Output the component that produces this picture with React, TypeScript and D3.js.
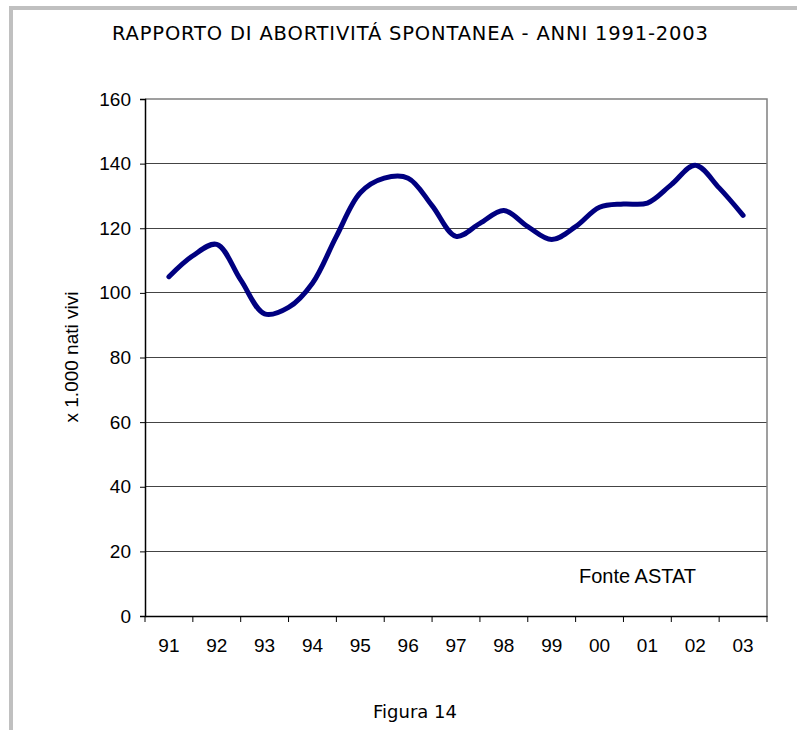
import React, { useEffect, useRef } from 'react';
import { select, scaleBand, scaleLinear, line, curveCatmullRom, axisLeft, axisBottom } from 'd3';

// categories on the x axis
const years = ['91', '92', '93', '94', '95', '96', '97', '98', '99', '00', '01', '02', '03'];
// y axis ticks
const yTicks = [0, 20, 40, 60, 80, 100, 120, 140, 160];
// rate x 1.000 live births, two readings per year (year centre and mid point to the next)
const rates = [
  105, 111.5, 115, 104, 93.5, 95.5, 103, 117.5, 131, 135.5, 135.5, 127, 117.5,
  121.5, 125.5, 120.5, 116.5, 120.5, 126.5, 127.5, 127.8, 133.5, 139.5, 132.5, 124,
];

const titleText = 'RAPPORTO DI ABORTIVITÁ SPONTANEA - ANNI 1991-2003';

export default function App() {
  const svgRef = useRef<SVGSVGElement>(null);

  useEffect(() => {
    const svg = select(svgRef.current);
    svg.selectAll('*').remove();

    const left = 145, right = 767, top = 99, bottom = 616;

    // outer gray frame
    svg.append('rect')
      .attr('x', 11).attr('y', 8)
      .attr('width', 820).attr('height', 760)
      .attr('fill', 'none')
      .attr('stroke', '#c0c0c0')
      .attr('stroke-width', 4);

    svg.append('text')
      .attr('x', 112).attr('y', 40)
      .attr('font-family', 'DejaVu Sans')
      .attr('font-size', 19.5)
      .attr('textLength', 596)
      .attr('lengthAdjust', 'spacing')
      .attr('fill', '#000')
      .text(titleText);

    const x = scaleBand<string>().domain(years).range([left, right]).paddingInner(0).paddingOuter(0);
    const half = x.bandwidth() / 2;
    const xPos = scaleLinear().domain([0, years.length - 1])
      .range([(x(years[0]) as number) + half, (x(years[years.length - 1]) as number) + half]);
    const y = scaleLinear().domain([0, 160]).range([bottom, top]);

    // gridlines
    svg.append('g')
      .selectAll('line')
      .data(yTicks.filter(d => d > 0 && d < 160))
      .join('line')
      .attr('x1', left).attr('x2', right)
      .attr('y1', d => y(d)).attr('y2', d => y(d))
      .attr('stroke', '#444')
      .attr('stroke-width', 1)
      .attr('shape-rendering', 'crispEdges');

    // plot border top / right
    svg.append('path')
      .attr('d', `M${left},${top}H${right}V${bottom}`)
      .attr('fill', 'none')
      .attr('stroke', '#808080')
      .attr('stroke-width', 1.5);

    // y axis
    const yAxis = svg.append('g')
      .attr('transform', `translate(${left},0)`)
      .call(axisLeft(y).tickValues(yTicks).tickSize(5).tickPadding(9).tickFormat(d => String(d)));
    yAxis.select('.domain').attr('stroke', '#000').attr('stroke-width', 1.5);
    yAxis.selectAll('.tick line').attr('stroke', '#000');
    yAxis.selectAll('text')
      .attr('font-family', 'Liberation Sans, Arial, sans-serif')
      .attr('font-size', 19)
      .attr('fill', '#000');

    // x axis: ticks between categories
    const xAxis = svg.append('g')
      .attr('transform', `translate(0,${bottom})`)
      .call(axisBottom(x).tickSize(0).tickPadding(23));
    xAxis.select('.domain').attr('stroke', '#000').attr('stroke-width', 1.5);
    xAxis.selectAll('text')
      .attr('font-family', 'Liberation Sans, Arial, sans-serif')
      .attr('font-size', 19)
      .attr('fill', '#000');
    xAxis.append('g')
      .selectAll('line')
      .data([...years.map(d => x(d) as number), right])
      .join('line')
      .attr('x1', d => d).attr('x2', d => d)
      .attr('y1', 0).attr('y2', 6)
      .attr('stroke', '#000');

    // y title
    svg.append('text')
      .attr('transform', `translate(78,357) rotate(-90)`)
      .attr('text-anchor', 'middle')
      .attr('font-family', 'Liberation Sans, Arial, sans-serif')
      .attr('font-size', 19)
      .attr('fill', '#000')
      .text('x 1.000 nati vivi');

    // data line
    svg.append('path')
      .datum(rates)
      .attr('fill', 'none')
      .attr('stroke', '#000080')
      .attr('stroke-width', 5)
      .attr('stroke-linejoin', 'round')
      .attr('stroke-linecap', 'round')
      .attr('d', line<number>()
        .x((_, i) => xPos(i / 2))
        .y(d => y(d))
        .curve(curveCatmullRom.alpha(0.5)));

    svg.append('text')
      .attr('x', 579).attr('y', 583)
      .attr('font-family', 'Liberation Sans, Arial, sans-serif')
      .attr('font-size', 20)
      .attr('fill', '#000')
      .text('Fonte ASTAT');

    svg.append('text')
      .attr('x', 415).attr('y', 718)
      .attr('text-anchor', 'middle')
      .attr('font-family', 'DejaVu Sans')
      .attr('font-size', 18)
      .attr('fill', '#000')
      .text('Figura 14');
  }, []);

  return (
    <svg
      ref={svgRef}
      width={797}
      height={730}
      style={{ position: 'absolute', left: 0, top: 0, background: '#fff' }}
    />
  );
}
